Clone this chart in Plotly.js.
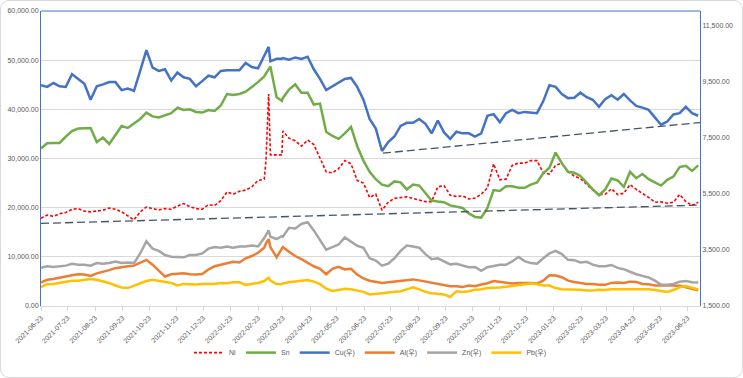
<!DOCTYPE html>
<html>
<head>
<meta charset="utf-8">
<script src="https://cdn.plot.ly/plotly-3.0.1.min.js"></script>
<style>
  html, body { margin: 0; padding: 0; background: #ffffff; }
  #wrap { position: relative; width: 743px; height: 378px; }
  #chart { position: absolute; left: 0; top: 0; width: 743px; height: 378px; }
  #frame { position: absolute; left: 0; top: 0; width: 743px; height: 378px; box-sizing: border-box;
           border: 1px solid #D9D9D9; border-radius: 9px; pointer-events: none; }
</style>
</head>
<body>
<div id="wrap"><div id="chart"></div><div id="frame"></div></div>
<script>
// ---------- data (weekly readings, USD/t) ----------
const dates = [
"2021-06-23","2021-06-30","2021-07-07","2021-07-14","2021-07-21","2021-07-28","2021-08-04","2021-08-11","2021-08-18","2021-08-25",
"2021-09-01","2021-09-08","2021-09-15","2021-09-22","2021-09-29","2021-10-06","2021-10-13","2021-10-20","2021-10-27","2021-11-03",
"2021-11-10","2021-11-17","2021-11-24","2021-12-01","2021-12-08","2021-12-15","2021-12-22","2021-12-29",
"2022-01-05","2022-01-12","2022-01-19","2022-01-26","2022-02-02","2022-02-09","2022-02-16","2022-02-23","2022-03-02","2022-03-04",
"2022-03-07","2022-03-09","2022-03-16","2022-03-22","2022-03-23","2022-03-30","2022-04-06","2022-04-13","2022-04-20","2022-04-27",
"2022-05-04","2022-05-11","2022-05-18","2022-05-25","2022-06-01","2022-06-08","2022-06-15","2022-06-22","2022-06-29",
"2022-07-06","2022-07-13","2022-07-20","2022-07-27","2022-08-03","2022-08-10","2022-08-17","2022-08-24","2022-08-31","2022-09-07",
"2022-09-14","2022-09-21","2022-09-28","2022-10-05","2022-10-12","2022-10-19","2022-10-26","2022-11-02","2022-11-09","2022-11-16",
"2022-11-23","2022-11-30","2022-12-07","2022-12-14","2022-12-21","2022-12-28",
"2023-01-04","2023-01-11","2023-01-18","2023-01-25","2023-02-01","2023-02-08","2023-02-15","2023-02-22","2023-03-01","2023-03-08",
"2023-03-15","2023-03-22","2023-03-29","2023-04-05","2023-04-12","2023-04-19","2023-04-26","2023-05-03","2023-05-10","2023-05-17",
"2023-05-24","2023-05-31","2023-06-07","2023-06-14","2023-06-21","2023-06-28","2023-07-05"
];

const ni = [
17849,18500,18240,18761,19022,19673,19802,19281,19151,19281,19476,19932,19673,19151,18370,17524,19151,20128,19802,19542,
19802,19673,20324,20845,20194,19802,19673,20584,
20454,21431,23189,22733,23319,23580,24231,25534,25794,29572,43119,30744,30744,30744,35564,34131,33610,32503,33740,32829,
30093,27293,27097,27944,29572,28921,25534,25013,22082,
22733,19476,21105,21887,22082,22212,21887,21626,21236,21236,24231,24492,22538,22277,22407,21756,21952,22733,24036,28921,
25664,25794,28595,29051,29051,29572,
29572,27097,26837,28595,29051,27293,26446,25925,24687,23580,22668,22733,23841,22668,22928,24687,23710,22928,22082,21105,
21170,20909,21105,22668,21236,20454,21105
];

const sn = [
32047,33089,33154,33154,34457,35564,36085,36085,36215,33349,34261,32959,34782,36606,36215,37062,38039,39341,38560,38365,
38820,39211,40318,39862,39993,39472,39341,39862,
39667,40774,43119,42924,43119,43575,44552,45529,46701,47287,48133,48720,42468,41751,42272,44031,45073,43380,43380,40970,
41165,35434,34587,34001,35108,36411,32503,29572,27293,
25794,24687,24362,25338,25143,23710,24687,24492,23059,21431,21236,21105,20454,20128,19932,18826,18109,17979,19932,23580,
23385,24362,24362,24036,24036,24687,
25143,26967,28139,31200,29051,27293,27097,26446,25013,23710,22538,23710,25925,25534,24231,27293,25990,26837,25794,25143,
24492,25664,26316,28270,28530,27488,28595
];

const cu = [
9355,9298,9435,9321,9298,9754,9583,9412,8842,9321,9389,9469,9469,9184,9241,9161,9868,10609,9982,9868,
9925,9526,9811,9640,9583,9321,9503,9697,
9640,9868,9891,9891,9891,10153,10005,9959,10381,10552,10723,10210,10301,10301,10324,10267,10347,10290,10370,9925,
9583,9184,9321,9469,9583,9617,9298,8842,8158,
7816,7018,7337,7531,7907,8021,8021,8158,7987,7645,8101,7679,7451,7702,7645,7645,7531,7645,8272,8329,
8044,8363,8477,8363,8409,8386,
8363,8785,9355,9298,9047,8899,8910,9093,8933,8842,8591,8865,9002,8842,9047,8819,8620,8560,8480,8215,
7953,8067,8318,8363,8591,8363,8272
];

const al = [
2344,2435,2458,2515,2549,2595,2629,2618,2572,2663,2709,2777,2846,2891,2914,2937,3028,3142,2971,2743,
2549,2629,2640,2663,2629,2618,2640,2800,
2914,2971,3028,3074,3051,3199,3279,3393,3575,3735,3883,3598,3233,3575,3598,3427,3279,3165,3028,2914,
2823,2629,2823,2891,2800,2823,2618,2481,2401,
2367,2321,2344,2367,2401,2412,2447,2412,2367,2321,2298,2253,2207,2207,2173,2230,2207,2264,2310,2390,
2355,2333,2298,2321,2333,2321,
2298,2401,2595,2583,2526,2401,2355,2321,2287,2287,2253,2253,2321,2333,2321,2367,2355,2287,2276,2230,
2230,2253,2230,2219,2162,2093,2059
];

const zn = [
2857,2914,2891,2914,2937,3006,2971,2971,2937,3028,3006,3028,3085,3028,3051,3028,3370,3803,3541,3461,
3313,3256,3233,3233,3313,3313,3370,3541,
3598,3575,3621,3575,3621,3621,3655,3621,3917,4031,4191,3963,3883,3986,3963,4282,4259,4419,4487,4191,
3826,3507,3598,3689,3940,3780,3644,3575,3199,
3119,2937,3006,3199,3461,3655,3621,3575,3347,3165,3199,3096,2982,3006,2937,2880,2891,2754,2880,2937,
2971,2971,3085,3245,3096,3028,
3005,3199,3370,3461,3347,3142,3131,3051,3074,2971,2914,2914,2960,2857,2811,2720,2629,2572,2515,2401,
2264,2253,2287,2367,2390,2344,2333
];

const pb = [
2173,2276,2287,2321,2367,2401,2401,2435,2458,2435,2390,2321,2230,2162,2139,2230,2321,2390,2435,2401,
2367,2321,2230,2287,2276,2264,2287,2287,
2287,2321,2310,2344,2344,2253,2276,2321,2390,2435,2504,2401,2276,2287,2298,2344,2378,2401,2424,2367,
2276,2116,2036,2070,2116,2093,2059,2002,1911,
1945,1956,1979,2002,2025,2093,2162,2093,2002,1956,1934,1911,1820,2025,2002,2025,2082,2093,2139,2139,
2162,2184,2207,2230,2276,2298,
2276,2230,2230,2139,2093,2093,2070,2082,2048,2048,2082,2070,2093,2093,2116,2105,2116,2093,2093,2070,
2025,2002,2070,2162,2207,2139,2093
];

// dashed trend lines (Ni support on left axis, Cu support on right axis)
const niTrendDates = ["2021-06-23", "2023-07-07"];
const niTrendValues = [16800, 20520];
const cuTrendDates = ["2022-07-14", "2023-07-07"];
const cuTrendValues = [6940, 8030];

const tickDates = [
"2021-06-23","2021-07-23","2021-08-23","2021-09-23","2021-10-23","2021-11-23","2021-12-23",
"2022-01-23","2022-02-23","2022-03-23","2022-04-23","2022-05-23","2022-06-23","2022-07-23",
"2022-08-23","2022-09-23","2022-10-23","2022-11-23","2022-12-23","2023-01-23","2023-02-23",
"2023-03-23","2023-04-23","2023-05-23","2023-06-23"
];
const xRange = ["2021-06-23", "2023-07-07"];

// ---------- traces ----------
const FONT = 'Liberation Sans, "Noto Sans CJK KR", sans-serif';
const W = 2.5;
const traces = [
  {x: dates, y: ni, name: 'Ni', type: 'scatter', mode: 'lines', yaxis: 'y',
   line: {color: '#FF0000', width: 1.6, dash: '3px,2px'}},
  {x: dates, y: sn, name: 'Sn', type: 'scatter', mode: 'lines', yaxis: 'y',
   line: {color: '#70AD47', width: W}},
  {x: niTrendDates, y: niTrendValues, name: 'trend', showlegend: false, type: 'scatter', mode: 'lines', yaxis: 'y',
   line: {color: '#44546A', width: 1.3, dash: '8px,4px'}},
  {x: dates, y: cu, name: 'Cu(우)', type: 'scatter', mode: 'lines', yaxis: 'y2',
   line: {color: '#4472C4', width: W}},
  {x: dates, y: al, name: 'Al(우)', type: 'scatter', mode: 'lines', yaxis: 'y2',
   line: {color: '#ED7D31', width: W}},
  {x: dates, y: zn, name: 'Zn(우)', type: 'scatter', mode: 'lines', yaxis: 'y2',
   line: {color: '#A5A5A5', width: W}},
  {x: dates, y: pb, name: 'Pb(우)', type: 'scatter', mode: 'lines', yaxis: 'y2',
   line: {color: '#FFC000', width: W}},
  {x: cuTrendDates, y: cuTrendValues, name: 'trend2', showlegend: false, type: 'scatter', mode: 'lines', yaxis: 'y2',
   line: {color: '#44546A', width: 1.3, dash: '8px,4px'}}
];

const layout = {
  width: 743, height: 378,
  margin: {l: 41, r: 43, t: 11, b: 60, pad: 0},
  paper_bgcolor: '#ffffff', plot_bgcolor: '#ffffff',
  font: {family: FONT, size: 7, color: '#595959'},
  showlegend: true,
  legend: {orientation: 'h', x: 0.5, xanchor: 'center', y: -0.158, yanchor: 'middle',
           font: {family: FONT, size: 7, color: '#595959'}, itemwidth: 30, tracegroupgap: 0,
           bgcolor: 'rgba(0,0,0,0)'},
  xaxis: {type: 'date', range: xRange, tickmode: 'array', tickvals: tickDates, ticktext: tickDates,
          tickangle: -45, ticks: 'outside', ticklen: 4, tickcolor: '#D9D9D9', tickwidth: 1,
          showline: true, linecolor: '#D9D9D9', linewidth: 1, showgrid: false, zeroline: false,
          tickfont: {family: FONT, size: 7, color: '#595959'}, fixedrange: true},
  yaxis: {range: [0, 60000], tick0: 0, dtick: 10000, tickformat: ',.2f', showgrid: true,
          gridcolor: '#D9D9D9', gridwidth: 1, showline: true, linecolor: '#4472C4', linewidth: 1,
          zeroline: false, ticks: '', tickfont: {family: FONT, size: 7, color: '#595959'}, fixedrange: true},
  yaxis2: {overlaying: 'y', side: 'right', range: [1500, 12000], tick0: 1500, dtick: 2000,
           tickformat: ',.2f', showgrid: false, showline: true, linecolor: '#4472C4', linewidth: 1,
           zeroline: false, ticks: '', tickfont: {family: FONT, size: 7, color: '#595959'}, fixedrange: true},
  shapes: [
    {type: 'line', xref: 'paper', yref: 'paper', x0: 0, x1: 1, y0: 1, y1: 1,
     line: {color: '#4472C4', width: 1}}
  ]
};

Plotly.newPlot('chart', traces, layout, {displayModeBar: false, staticPlot: true});
</script>
</body>
</html>
